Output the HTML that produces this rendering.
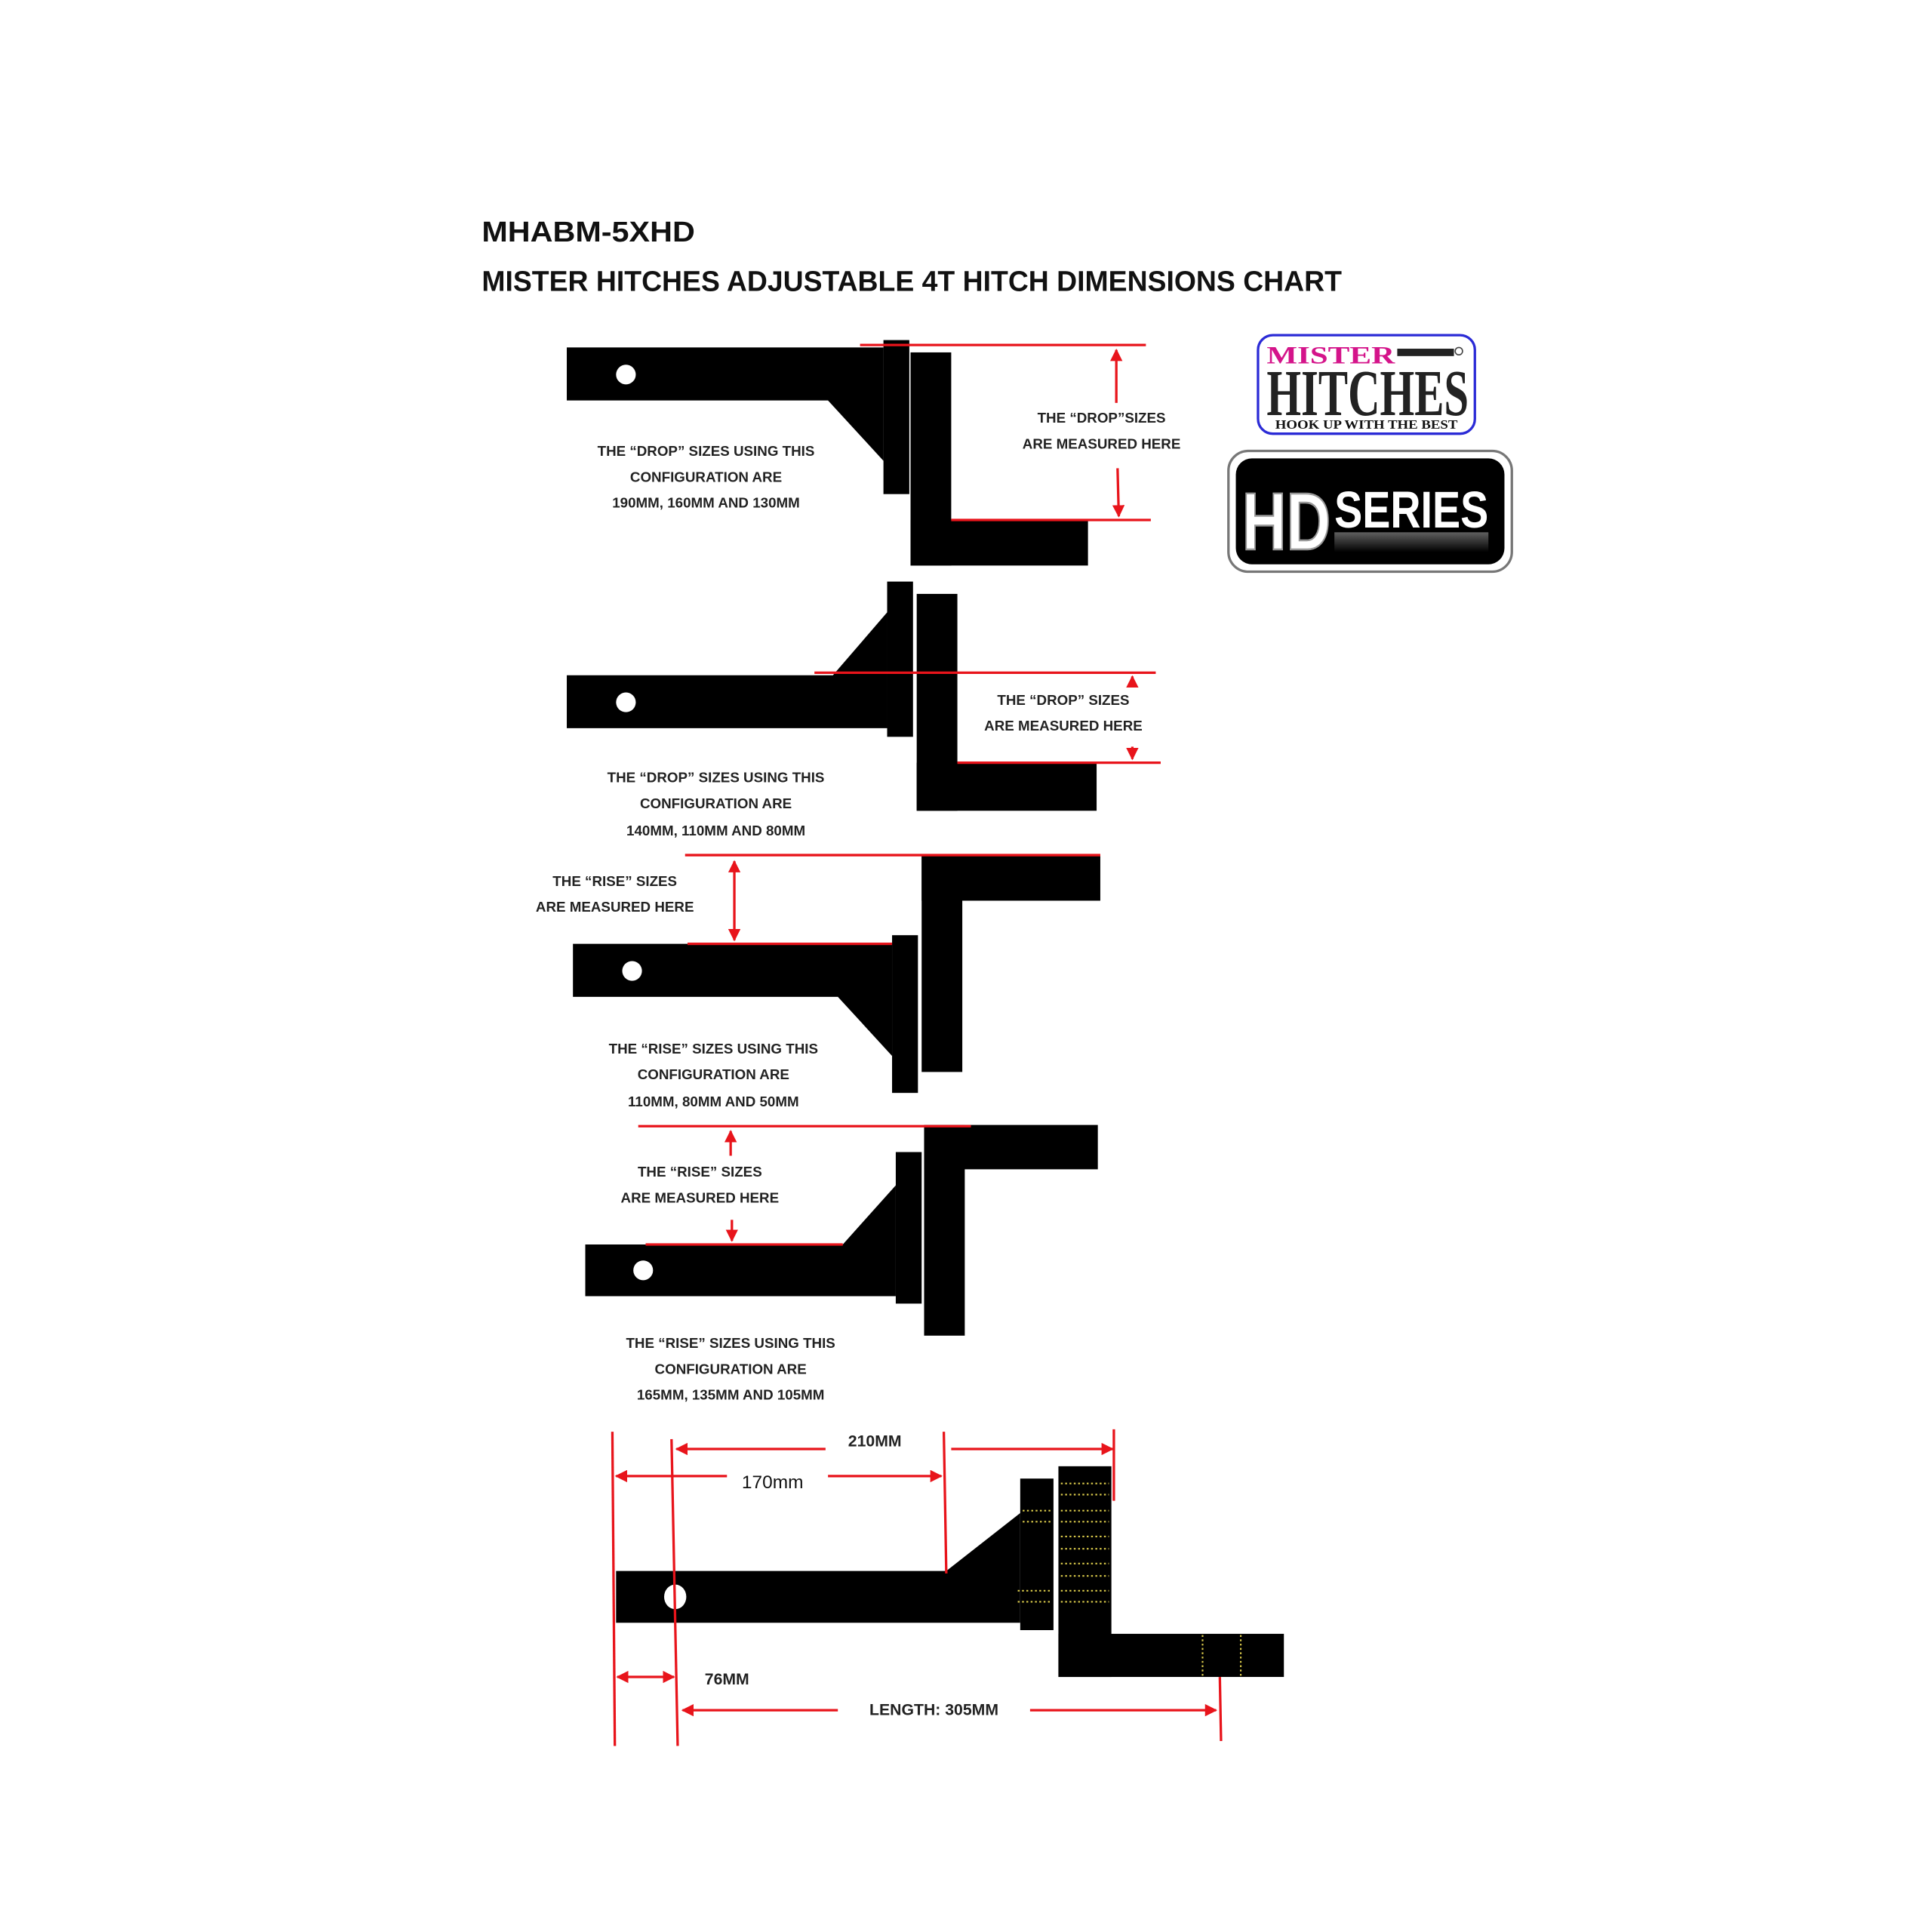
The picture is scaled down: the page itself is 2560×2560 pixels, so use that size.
<!DOCTYPE html>
<html><head><meta charset="utf-8"><style>
html,body{margin:0;padding:0;background:#fff;}
svg{display:block;}
.t{font-family:"Liberation Sans",sans-serif;font-weight:bold;font-size:11.5px;fill:#222;text-anchor:middle;}
.r{stroke:#e8141b;stroke-width:2;fill:none;}
.d{stroke:#d8c84a;stroke-width:1.3;stroke-dasharray:1.5 2;}
</style></head><body>
<svg width="2560" height="2560" viewBox="0 0 1568 1568" xmlns="http://www.w3.org/2000/svg">
<defs>
<marker id="a" viewBox="0 0 10 10" refX="9" refY="5" markerWidth="5" markerHeight="5" orient="auto-start-reverse"><path d="M0,0L10,5L0,10z" fill="#e8141b"/></marker>
<linearGradient id="g" x1="0" y1="0" x2="0" y2="1"><stop offset="0" stop-color="#888"/><stop offset="1" stop-color="#000"/></linearGradient>
</defs>
<rect width="1568" height="1568" fill="#fff"/>
<text x="391" y="196" font-family="Liberation Sans,sans-serif" font-weight="bold" font-size="23" fill="#111" textLength="173" lengthAdjust="spacingAndGlyphs">MHABM-5XHD</text>
<text x="391" y="236" font-family="Liberation Sans,sans-serif" font-weight="bold" font-size="23" fill="#111" textLength="698" lengthAdjust="spacingAndGlyphs">MISTER HITCHES ADJUSTABLE 4T HITCH DIMENSIONS CHART</text>

<!-- Diagram 1 -->
<polygon points="460,282 717,282 717,374 672,325 460,325" fill="#000"/>
<rect x="717" y="276" width="21" height="125" fill="#000"/>
<rect x="739" y="286" width="33" height="173" fill="#000"/>
<rect x="739" y="422" width="144" height="37" fill="#000"/>
<circle cx="508" cy="304" r="8" fill="#fff"/>
<line class="r" x1="698" y1="280" x2="930" y2="280"/>
<line class="r" x1="772" y1="422" x2="934" y2="422"/>
<line class="r" x1="906" y1="327" x2="906" y2="284" marker-end="url(#a)"/>
<line class="r" x1="907" y1="380" x2="908" y2="419" marker-end="url(#a)"/>
<text class="t" x="894" y="343">THE “DROP”SIZES</text>
<text class="t" x="894" y="364">ARE MEASURED HERE</text>
<text class="t" x="573" y="370">THE “DROP” SIZES USING THIS</text>
<text class="t" x="573" y="391">CONFIGURATION ARE</text>
<text class="t" x="573" y="412">190MM, 160MM AND 130MM</text>

<!-- Diagram 2 -->
<polygon points="460,548 676,548 720,497 720,591 460,591" fill="#000"/>
<rect x="720" y="472" width="21" height="126" fill="#000"/>
<rect x="744" y="482" width="33" height="176" fill="#000"/>
<rect x="744" y="619" width="146" height="39" fill="#000"/>
<circle cx="508" cy="570" r="8" fill="#fff"/>
<line class="r" x1="661" y1="546" x2="938" y2="546"/>
<line class="r" x1="777" y1="619" x2="942" y2="619"/>
<line class="r" x1="919" y1="557" x2="919" y2="549" marker-end="url(#a)"/>
<line class="r" x1="919" y1="606" x2="919" y2="616" marker-end="url(#a)"/>
<text class="t" x="863" y="572">THE “DROP” SIZES</text>
<text class="t" x="863" y="593">ARE MEASURED HERE</text>
<text class="t" x="581" y="635">THE “DROP” SIZES USING THIS</text>
<text class="t" x="581" y="656">CONFIGURATION ARE</text>
<text class="t" x="581" y="678">140MM, 110MM AND 80MM</text>

<!-- Diagram 3 -->
<rect x="748" y="694" width="145" height="37" fill="#000"/>
<rect x="748" y="694" width="33" height="176" fill="#000"/>
<polygon points="465,766 724,766 724,857 680,809 465,809" fill="#000"/>
<rect x="724" y="759" width="21" height="128" fill="#000"/>
<circle cx="513" cy="788" r="8" fill="#fff"/>
<line class="r" x1="556" y1="694" x2="893" y2="694"/>
<line class="r" x1="558" y1="766" x2="724" y2="766"/>
<line class="r" x1="596" y1="699" x2="596" y2="763" marker-start="url(#a)" marker-end="url(#a)"/>
<text class="t" x="499" y="719">THE “RISE” SIZES</text>
<text class="t" x="499" y="740">ARE MEASURED HERE</text>
<text class="t" x="579" y="855">THE “RISE” SIZES USING THIS</text>
<text class="t" x="579" y="876">CONFIGURATION ARE</text>
<text class="t" x="579" y="898">110MM, 80MM AND 50MM</text>

<!-- Diagram 4 -->
<rect x="750" y="913" width="141" height="36" fill="#000"/>
<rect x="750" y="913" width="33" height="171" fill="#000"/>
<polygon points="475,1010 684,1010 727,962 727,1052 475,1052" fill="#000"/>
<rect x="727" y="935" width="21" height="123" fill="#000"/>
<circle cx="522" cy="1031" r="8" fill="#fff"/>
<line class="r" x1="518" y1="914" x2="788" y2="914"/>
<line class="r" x1="524" y1="1010" x2="684" y2="1010"/>
<line class="r" x1="593" y1="938" x2="593" y2="918" marker-end="url(#a)"/>
<line class="r" x1="594" y1="990" x2="594" y2="1007" marker-end="url(#a)"/>
<text class="t" x="568" y="955">THE “RISE” SIZES</text>
<text class="t" x="568" y="976">ARE MEASURED HERE</text>
<text class="t" x="593" y="1094">THE “RISE” SIZES USING THIS</text>
<text class="t" x="593" y="1115">CONFIGURATION ARE</text>
<text class="t" x="593" y="1136">165MM, 135MM AND 105MM</text>

<!-- Bottom diagram -->
<polygon points="500,1275 768,1275 828,1228 828,1317 500,1317" fill="#000"/>
<rect x="828" y="1200" width="27" height="123" fill="#000"/>
<rect x="859" y="1190" width="43" height="171" fill="#000"/>
<rect x="859" y="1326" width="183" height="35" fill="#000"/>
<ellipse cx="548" cy="1296" rx="9" ry="10" fill="#fff"/>
<g class="d">
<line x1="861" y1="1204" x2="900" y2="1204"/><line x1="861" y1="1213" x2="900" y2="1213"/>
<line x1="830" y1="1226" x2="853" y2="1226"/><line x1="861" y1="1226" x2="900" y2="1226"/>
<line x1="830" y1="1235" x2="853" y2="1235"/><line x1="861" y1="1235" x2="900" y2="1235"/>
<line x1="861" y1="1247" x2="900" y2="1247"/><line x1="861" y1="1257" x2="900" y2="1257"/>
<line x1="861" y1="1269" x2="900" y2="1269"/><line x1="861" y1="1279" x2="900" y2="1279"/>
<line x1="826" y1="1291" x2="853" y2="1291"/><line x1="861" y1="1291" x2="900" y2="1291"/>
<line x1="826" y1="1300" x2="853" y2="1300"/><line x1="861" y1="1300" x2="900" y2="1300"/>
<line x1="976" y1="1327" x2="976" y2="1360"/><line x1="1007" y1="1327" x2="1007" y2="1360"/>
</g>
<line class="r" x1="497" y1="1162" x2="499" y2="1417"/>
<line class="r" x1="545" y1="1168" x2="550" y2="1417"/>
<line class="r" x1="766" y1="1162" x2="768" y2="1277"/>
<line class="r" x1="904" y1="1160" x2="904" y2="1218"/>
<line class="r" x1="990" y1="1361" x2="991" y2="1413"/>
<line class="r" x1="670" y1="1176" x2="549" y2="1176" marker-end="url(#a)"/>
<line class="r" x1="772" y1="1176" x2="903" y2="1176" marker-end="url(#a)"/>
<text x="710" y="1174" class="t" style="font-size:13px">210MM</text>
<line class="r" x1="590" y1="1198" x2="500" y2="1198" marker-end="url(#a)"/>
<line class="r" x1="672" y1="1198" x2="764" y2="1198" marker-end="url(#a)"/>
<text x="627" y="1208" font-family="Liberation Sans,sans-serif" font-size="15" fill="#111" text-anchor="middle">170mm</text>
<line class="r" x1="501" y1="1361" x2="547" y2="1361" marker-start="url(#a)" marker-end="url(#a)"/>
<text x="590" y="1367" class="t" style="font-size:13px">76MM</text>
<line class="r" x1="680" y1="1388" x2="554" y2="1388" marker-end="url(#a)"/>
<line class="r" x1="836" y1="1388" x2="987" y2="1388" marker-end="url(#a)"/>
<text x="758" y="1392" class="t" style="font-size:13px">LENGTH: 305MM</text>

<!-- Mister Hitches logo -->
<rect x="1021" y="272" width="176" height="80" rx="12" fill="#fff" stroke="#2b2bd6" stroke-width="2"/>
<text x="1028" y="295" font-family="Liberation Serif,serif" font-weight="bold" font-size="20" fill="#d4148a" textLength="104" lengthAdjust="spacingAndGlyphs">MISTER</text>
<rect x="1134" y="283" width="46" height="6" fill="#222"/>
<circle cx="1184" cy="285" r="3" fill="none" stroke="#444"/>
<text x="1028" y="338" font-family="Liberation Serif,serif" font-weight="bold" font-size="52" fill="#222" textLength="164" lengthAdjust="spacingAndGlyphs" transform="translate(0,-8) scale(1,1.02)">HITCHES</text>
<text x="1109" y="348" font-family="Liberation Serif,serif" font-weight="bold" font-size="10" fill="#111" text-anchor="middle" textLength="148" lengthAdjust="spacingAndGlyphs">HOOK UP WITH THE BEST</text>

<!-- HD series logo -->
<rect x="997" y="366" width="230" height="98" rx="16" fill="#fff" stroke="#777" stroke-width="2"/>
<rect x="1003" y="372" width="218" height="86" rx="13" fill="#000"/>
<text x="1008" y="446" font-family="Liberation Sans,sans-serif" font-weight="bold" font-size="66" fill="#fff" stroke="#999" stroke-width="1.5" textLength="72" lengthAdjust="spacingAndGlyphs">HD</text>
<text x="1083" y="428" font-family="Liberation Sans,sans-serif" font-weight="bold" font-size="42" fill="#fff" textLength="125" lengthAdjust="spacingAndGlyphs">SERIES</text>
<rect x="1083" y="432" width="125" height="16" fill="url(#g)" opacity="0.7"/>
</svg>
</body></html>
